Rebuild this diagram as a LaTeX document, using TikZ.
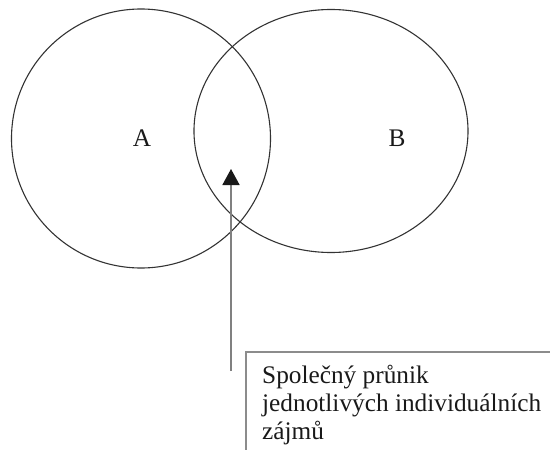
\documentclass[tikz,border=0pt]{standalone}
\usepackage{fontspec}
\setmainfont{Liberation Serif}
\usetikzlibrary{arrows.meta}
\begin{document}
\begin{tikzpicture}[x=1pt,y=-1pt,
  setline/.style={draw=black!80,line width=1.1pt},
  pointer/.style={draw=black!50,line width=1.6pt,-{Triangle[width=17pt,length=16pt,color=black!90,fill=black!90]}},
  framelines/.style={draw=black!45,line width=1.2pt},
  lbl/.style={font=\fontsize{25.3}{28}\selectfont,text=black!90}]
\useasboundingbox (0,0) rectangle (550,450);
\draw[setline] (141,138.5) ellipse [x radius=129.5,y radius=129.5];
\draw[setline] (331,131) ellipse [x radius=137,y radius=121.5];
\node[lbl,anchor=base] (A) at (142,146) {A};
\node[lbl,anchor=base] (B) at (397,146) {B};
\coordinate (foot) at (231,371);
\coordinate (tip) at (231,169);
\draw[pointer] (foot) -- (tip);
\coordinate (bx) at (246,352);
\draw[framelines] (246,460) -- (bx) -- (560,352);
\node[lbl,anchor=base west,align=left,inner sep=0pt] (note) at (262,439) {Společný průnik\\jednotlivých individuálních\\zájmů};
\end{tikzpicture}
\end{document}
